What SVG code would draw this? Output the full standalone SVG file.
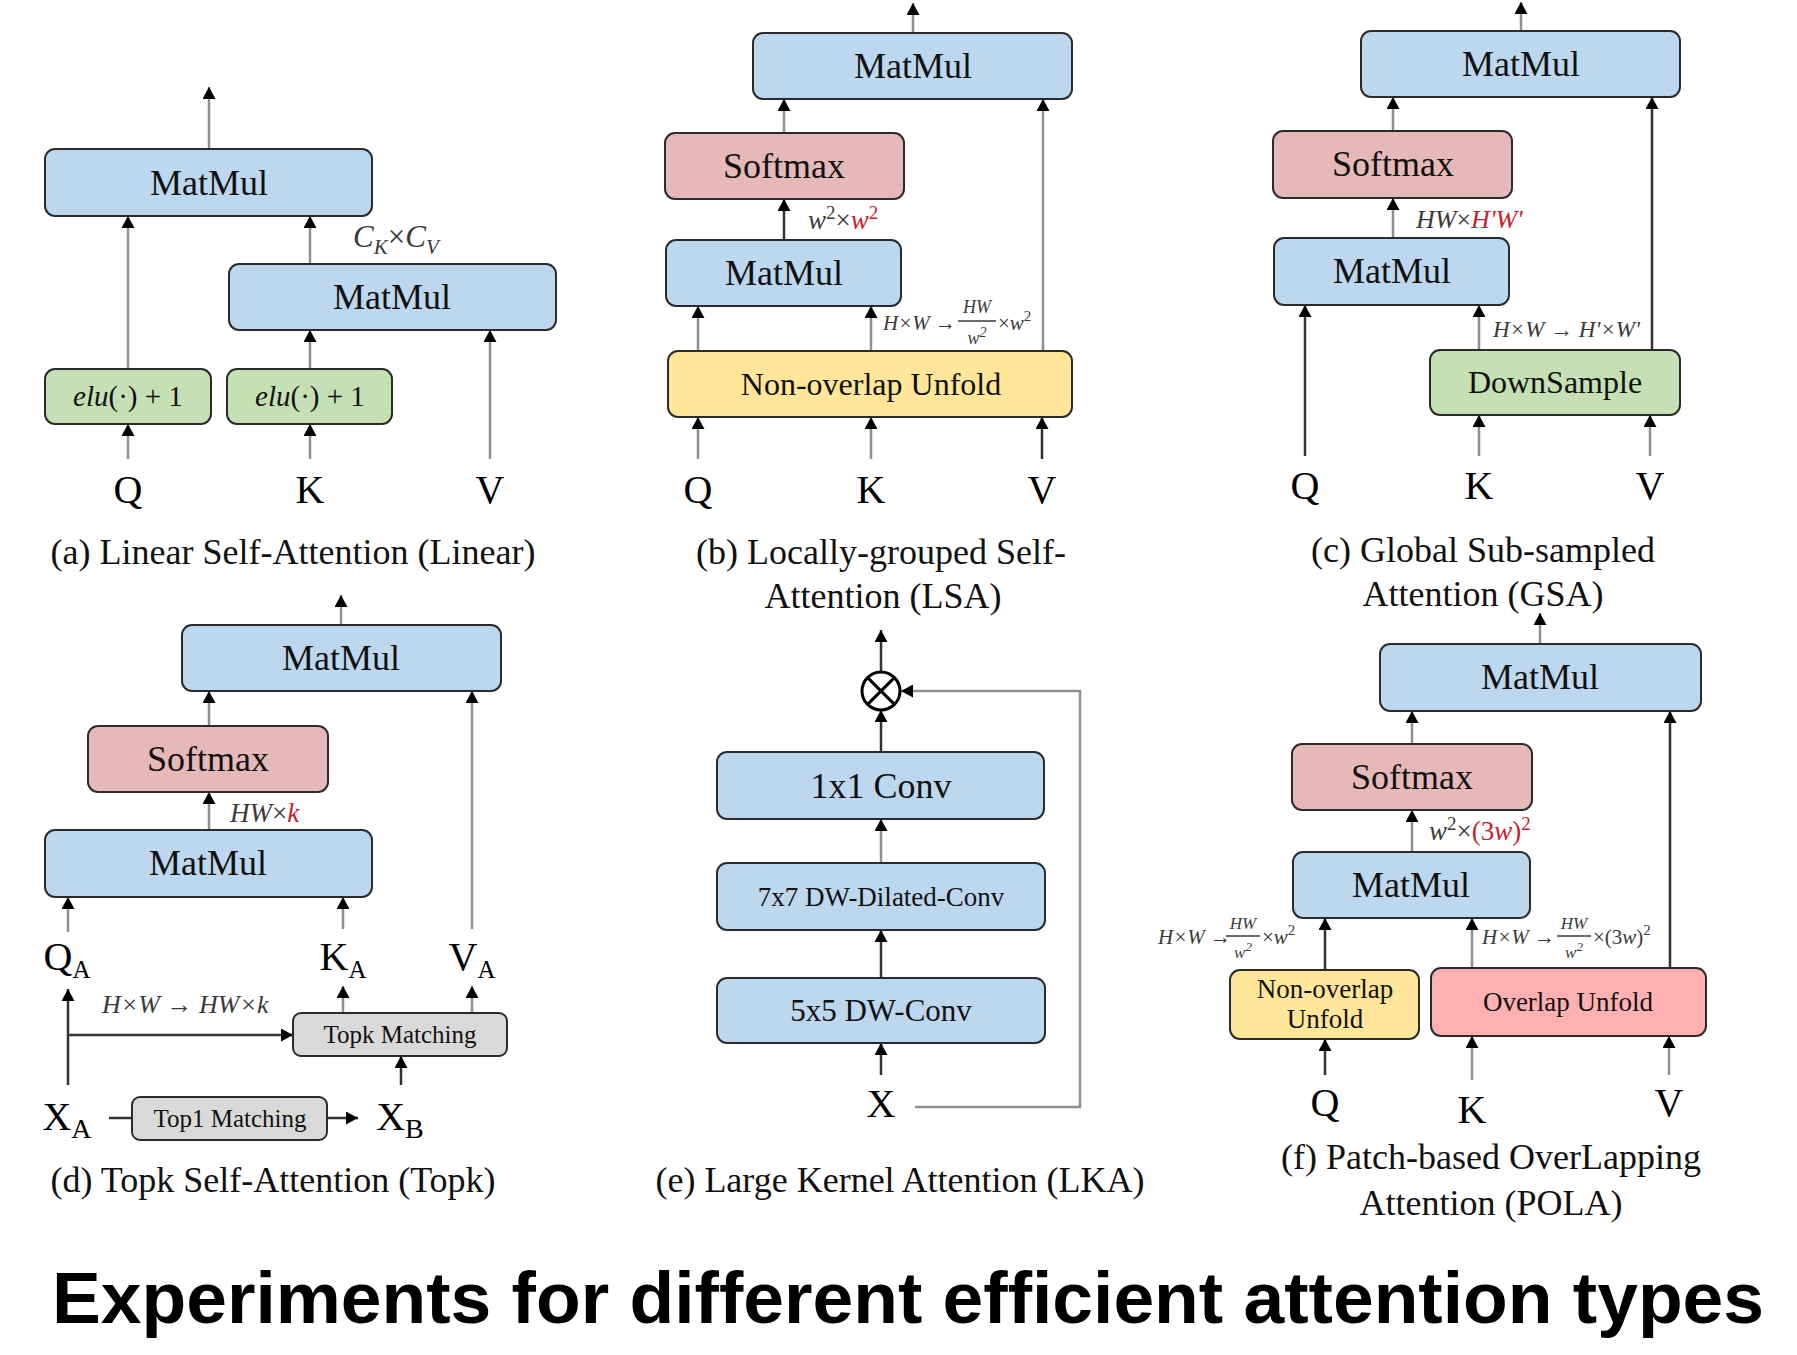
<svg xmlns="http://www.w3.org/2000/svg" width="1797" height="1355" viewBox="0 0 1797 1355">
<defs>
<marker id="ah" markerUnits="userSpaceOnUse" markerWidth="13" markerHeight="13" refX="12" refY="6.5" orient="auto">
<path d="M0,0 L12,6.5 L0,13 Z" fill="#000"/>
</marker>
<style>
.bx{stroke:#2b2b2b;stroke-width:2}
.blue{fill:#bdd7ee}
.pink{fill:#e6b9b8}
.green{fill:#c5e0b4}
.yellow{fill:#ffe699}
.gray{fill:#d9d9d9}
.red{fill:#ffb0b0}
.t{font-family:"Liberation Serif","Times New Roman",serif;fill:#111;text-anchor:middle}
.lab{font-family:"Liberation Serif","Times New Roman",serif;fill:#000;text-anchor:middle;font-size:40px}
.cap{font-family:"Liberation Serif","Times New Roman",serif;fill:#111;text-anchor:middle;font-size:36px}
.m{font-family:"Liberation Serif","Times New Roman",serif;font-style:italic;fill:#3a3a3a}
.rd{fill:#c8202c}
.ln{stroke:#909090;stroke-width:2.5;fill:none;marker-end:url(#ah)}
.dk{stroke:#333;stroke-width:2.5;fill:none;marker-end:url(#ah)}
.pl{stroke:#333;stroke-width:2.5;fill:none}
.title{font-family:"Liberation Sans",Arial,sans-serif;font-weight:bold;font-size:73px;fill:#000}
</style>
</defs>
<rect width="1797" height="1355" fill="#fff"/>

<g id="connectors">
<!-- (a) -->
<line class="ln" x1="209" y1="149" x2="209" y2="87"/>
<line class="ln" x1="128" y1="369" x2="128" y2="216"/>
<line class="ln" x1="310" y1="264" x2="310" y2="216"/>
<line class="ln" x1="310" y1="369" x2="310" y2="330"/>
<line class="ln" x1="490" y1="459" x2="490" y2="330"/>
<line class="ln" x1="128" y1="459" x2="128" y2="424"/>
<line class="ln" x1="310" y1="459" x2="310" y2="424"/>
<!-- (b) -->
<line class="ln" x1="913" y1="33" x2="913" y2="3"/>
<line class="ln" x1="784" y1="133" x2="784" y2="99"/>
<line class="dk" x1="784" y1="240" x2="784" y2="199"/>
<line class="ln" x1="698" y1="351" x2="698" y2="306"/>
<line class="ln" x1="871" y1="351" x2="871" y2="306"/>
<line class="ln" x1="1043" y1="351" x2="1043" y2="99"/>
<line class="ln" x1="698" y1="459" x2="698" y2="417"/>
<line class="ln" x1="871" y1="459" x2="871" y2="417"/>
<line class="dk" x1="1042" y1="459" x2="1042" y2="417"/>
<!-- (c) -->
<line class="ln" x1="1521" y1="31" x2="1521" y2="2"/>
<line class="ln" x1="1393" y1="131" x2="1393" y2="97"/>
<line class="ln" x1="1393" y1="238" x2="1393" y2="198"/>
<line class="dk" x1="1305" y1="456" x2="1305" y2="305"/>
<line class="ln" x1="1479" y1="350" x2="1479" y2="305"/>
<line class="dk" x1="1652" y1="350" x2="1652" y2="97"/>
<line class="ln" x1="1479" y1="456" x2="1479" y2="415"/>
<line class="ln" x1="1650" y1="456" x2="1650" y2="415"/>
<!-- (d) -->
<line class="ln" x1="341" y1="625" x2="341" y2="595"/>
<line class="ln" x1="209" y1="726" x2="209" y2="691"/>
<line class="ln" x1="209" y1="830" x2="209" y2="792"/>
<line class="ln" x1="68" y1="932" x2="68" y2="897"/>
<line class="ln" x1="343" y1="929" x2="343" y2="897"/>
<line class="ln" x1="472" y1="929" x2="472" y2="691"/>
<line class="ln" x1="343" y1="1013" x2="343" y2="986"/>
<line class="ln" x1="472" y1="1013" x2="472" y2="986"/>
<line class="dk" x1="68" y1="1085" x2="68" y2="989"/>
<line class="dk" x1="68" y1="1035" x2="293" y2="1035"/>
<line class="dk" x1="401" y1="1085" x2="401" y2="1056"/>
<line class="pl" x1="109" y1="1118" x2="132" y2="1118"/>
<line class="dk" x1="327" y1="1118" x2="358" y2="1118"/>
<!-- (e) -->
<line class="dk" x1="881" y1="672" x2="881" y2="630"/>
<line class="dk" x1="881" y1="752" x2="881" y2="710"/>
<line class="ln" x1="881" y1="863" x2="881" y2="819"/>
<line class="dk" x1="881" y1="978" x2="881" y2="930"/>
<line class="dk" x1="881" y1="1075" x2="881" y2="1043"/>
<polyline class="ln" points="915,1107 1080,1107 1080,691 901,691"/>
<!-- (f) -->
<line class="ln" x1="1540" y1="644" x2="1540" y2="613"/>
<line class="ln" x1="1412" y1="744" x2="1412" y2="711"/>
<line class="ln" x1="1412" y1="852" x2="1412" y2="810"/>
<line class="dk" x1="1325" y1="970" x2="1325" y2="918"/>
<line class="ln" x1="1472" y1="968" x2="1472" y2="918"/>
<line class="dk" x1="1670" y1="968" x2="1670" y2="711"/>
<line class="dk" x1="1325" y1="1075" x2="1325" y2="1039"/>
<line class="ln" x1="1472" y1="1080" x2="1472" y2="1036"/>
<line class="ln" x1="1669" y1="1075" x2="1669" y2="1036"/>
</g>

<!-- (a) Linear -->
<g id="a-matmul-top"><rect class="bx blue" x="45" y="149" width="327" height="67" rx="10"/><text class="t" x="209" y="195" font-size="36">MatMul</text></g>
<g id="a-matmul-kv"><rect class="bx blue" x="229" y="264" width="327" height="66" rx="10"/><text class="t" x="392" y="309" font-size="36">MatMul</text></g>
<g id="a-elu-q"><rect class="bx green" x="45" y="369" width="166" height="55" rx="10"/><text class="t" x="128" y="406" font-size="29"><tspan font-style="italic">elu</tspan>(·) + 1</text></g>
<g id="a-elu-k"><rect class="bx green" x="227" y="369" width="165" height="55" rx="10"/><text class="t" x="310" y="406" font-size="29"><tspan font-style="italic">elu</tspan>(·) + 1</text></g>
<g id="a-labels">
<text class="m" x="353" y="247" font-size="31">C<tspan dy="7" font-size="21">K</tspan><tspan dy="-7" font-style="normal">×</tspan>C<tspan dy="7" font-size="21">V</tspan></text>
<text class="lab" x="128" y="503">Q</text><text class="lab" x="310" y="503">K</text><text class="lab" x="490" y="503">V</text>
<text class="cap" x="293" y="564">(a) Linear Self-Attention (Linear)</text>
</g>

<!-- (b) LSA -->
<g id="b-matmul-top"><rect class="bx blue" x="753" y="33" width="319" height="66" rx="10"/><text class="t" x="913" y="78" font-size="36">MatMul</text></g>
<g id="b-softmax"><rect class="bx pink" x="665" y="133" width="239" height="66" rx="10"/><text class="t" x="784" y="178" font-size="36">Softmax</text></g>
<g id="b-matmul"><rect class="bx blue" x="666" y="240" width="235" height="66" rx="10"/><text class="t" x="784" y="285" font-size="36">MatMul</text></g>
<g id="b-unfold"><rect class="bx yellow" x="668" y="351" width="404" height="66" rx="10"/><text class="t" x="871" y="395" font-size="32">Non-overlap Unfold</text></g>
<g id="b-labels">
<text class="m" x="808" y="229" font-size="27">w<tspan dy="-10" font-size="19" font-style="normal">2</tspan><tspan dy="10" font-style="normal">×</tspan><tspan class="rd">w</tspan><tspan class="rd" dy="-10" font-size="19" font-style="normal">2</tspan></text>
<text class="m" x="883" y="330" font-size="21">H×W →</text>
<text class="m" x="977" y="313" font-size="18" text-anchor="middle">HW</text>
<line x1="958" y1="321" x2="996" y2="321" stroke="#3a3a3a" stroke-width="1.5"/>
<text class="m" x="977" y="344" font-size="18" text-anchor="middle" font-style="normal">w<tspan dy="-7" font-size="14">2</tspan></text>
<text class="m" x="998" y="330" font-size="21"><tspan font-style="normal">×</tspan>w<tspan dy="-9" font-size="15" font-style="normal">2</tspan></text>
<text class="lab" x="698" y="503">Q</text><text class="lab" x="871" y="503">K</text><text class="lab" x="1042" y="503">V</text>
<text class="cap" x="881" y="564">(b) Locally-grouped Self-</text>
<text class="cap" x="883" y="608">Attention (LSA)</text>
</g>

<!-- (c) GSA -->
<g id="c-matmul-top"><rect class="bx blue" x="1361" y="31" width="319" height="66" rx="10"/><text class="t" x="1521" y="76" font-size="36">MatMul</text></g>
<g id="c-softmax"><rect class="bx pink" x="1273" y="131" width="239" height="67" rx="10"/><text class="t" x="1393" y="176" font-size="36">Softmax</text></g>
<g id="c-matmul"><rect class="bx blue" x="1274" y="238" width="235" height="67" rx="10"/><text class="t" x="1392" y="283" font-size="36">MatMul</text></g>
<g id="c-downsample"><rect class="bx green" x="1430" y="350" width="250" height="65" rx="10"/><text class="t" x="1555" y="393" font-size="32">DownSample</text></g>
<g id="c-labels">
<text class="m" x="1416" y="228" font-size="26">HW<tspan font-style="normal">×</tspan><tspan class="rd">H'W'</tspan></text>
<text class="m" x="1493" y="337" font-size="23">H×W → H'×W'</text>
<text class="lab" x="1305" y="499">Q</text><text class="lab" x="1479" y="499">K</text><text class="lab" x="1650" y="499">V</text>
<text class="cap" x="1483" y="562">(c) Global Sub-sampled</text>
<text class="cap" x="1483" y="606">Attention (GSA)</text>
</g>

<!-- (d) Topk -->
<g id="d-matmul-top"><rect class="bx blue" x="182" y="625" width="319" height="66" rx="10"/><text class="t" x="341" y="670" font-size="36">MatMul</text></g>
<g id="d-softmax"><rect class="bx pink" x="88" y="726" width="240" height="66" rx="10"/><text class="t" x="208" y="771" font-size="36">Softmax</text></g>
<g id="d-matmul"><rect class="bx blue" x="45" y="830" width="327" height="67" rx="10"/><text class="t" x="208" y="875" font-size="36">MatMul</text></g>
<g id="d-topk"><rect class="bx gray" x="293" y="1013" width="214" height="43" rx="8"/><text class="t" x="400" y="1043" font-size="25">Topk Matching</text></g>
<g id="d-top1"><rect class="bx gray" x="132" y="1097" width="195" height="43" rx="8"/><text class="t" x="230" y="1127" font-size="25">Top1 Matching</text></g>
<g id="d-labels">
<text class="m" x="230" y="822" font-size="27">HW<tspan font-style="normal">×</tspan><tspan class="rd">k</tspan></text>
<text class="m" x="102" y="1013" font-size="26">H×W → HW×k</text>
<text class="lab" x="67" y="970" font-size="38">Q<tspan dy="8" font-size="25">A</tspan></text>
<text class="lab" x="343" y="970" font-size="38">K<tspan dy="8" font-size="25">A</tspan></text>
<text class="lab" x="472" y="970" font-size="38">V<tspan dy="8" font-size="25">A</tspan></text>
<text class="lab" x="67" y="1130" font-size="44">X<tspan dy="8" font-size="28">A</tspan></text>
<text class="lab" x="400" y="1130" font-size="44">X<tspan dy="8" font-size="28">B</tspan></text>
<text class="cap" x="273" y="1192">(d) Topk Self-Attention (Topk)</text>
</g>

<!-- (e) LKA -->
<g id="e-mul"><circle cx="881" cy="691" r="19" fill="#fff" stroke="#000" stroke-width="3"/><path d="M867.6,677.6 L894.4,704.4 M894.4,677.6 L867.6,704.4" stroke="#000" stroke-width="3"/></g>
<g id="e-conv1"><rect class="bx blue" x="717" y="752" width="327" height="67" rx="10"/><text class="t" x="881" y="798" font-size="36">1x1 Conv</text></g>
<g id="e-conv7"><rect class="bx blue" x="717" y="863" width="328" height="67" rx="10"/><text class="t" x="881" y="906" font-size="27">7x7 DW-Dilated-Conv</text></g>
<g id="e-conv5"><rect class="bx blue" x="717" y="978" width="328" height="65" rx="10"/><text class="t" x="881" y="1021" font-size="31">5x5 DW-Conv</text></g>
<g id="e-labels">
<text class="lab" x="881" y="1117">X</text>
<text class="cap" x="900" y="1192">(e) Large Kernel Attention (LKA)</text>
</g>

<!-- (f) POLA -->
<g id="f-matmul-top"><rect class="bx blue" x="1380" y="644" width="321" height="67" rx="10"/><text class="t" x="1540" y="689" font-size="36">MatMul</text></g>
<g id="f-softmax"><rect class="bx pink" x="1292" y="744" width="240" height="66" rx="10"/><text class="t" x="1412" y="789" font-size="36">Softmax</text></g>
<g id="f-matmul"><rect class="bx blue" x="1293" y="852" width="237" height="66" rx="10"/><text class="t" x="1411" y="897" font-size="36">MatMul</text></g>
<g id="f-nonoverlap"><rect class="bx yellow" x="1230" y="970" width="189" height="69" rx="10"/><text class="t" x="1325" y="998" font-size="27">Non-overlap</text><text class="t" x="1325" y="1028" font-size="27">Unfold</text></g>
<g id="f-overlap"><rect class="bx red" x="1431" y="968" width="275" height="68" rx="10"/><text class="t" x="1568" y="1011" font-size="27">Overlap Unfold</text></g>
<g id="f-labels">
<text class="m" x="1429" y="840" font-size="27">w<tspan dy="-10" font-size="19" font-style="normal">2</tspan><tspan dy="10" font-style="normal">×</tspan><tspan class="rd" font-style="normal">(3</tspan><tspan class="rd">w</tspan><tspan class="rd" font-style="normal">)</tspan><tspan class="rd" dy="-10" font-size="19" font-style="normal">2</tspan></text>
<text class="m" x="1158" y="944" font-size="21">H×W →</text>
<text class="m" x="1243" y="929" font-size="17" text-anchor="middle">HW</text>
<line x1="1226" y1="936" x2="1260" y2="936" stroke="#3a3a3a" stroke-width="1.5"/>
<text class="m" x="1243" y="958" font-size="17" text-anchor="middle" font-style="normal">w<tspan dy="-7" font-size="13">2</tspan></text>
<text class="m" x="1262" y="944" font-size="21"><tspan font-style="normal">×</tspan>w<tspan dy="-9" font-size="15" font-style="normal">2</tspan></text>
<text class="m" x="1482" y="944" font-size="21">H×W →</text>
<text class="m" x="1574" y="929" font-size="17" text-anchor="middle">HW</text>
<line x1="1557" y1="936" x2="1591" y2="936" stroke="#3a3a3a" stroke-width="1.5"/>
<text class="m" x="1574" y="958" font-size="17" text-anchor="middle" font-style="normal">w<tspan dy="-7" font-size="13">2</tspan></text>
<text class="m" x="1593" y="944" font-size="21"><tspan font-style="normal">×(3</tspan>w<tspan font-style="normal">)</tspan><tspan dy="-9" font-size="15" font-style="normal">2</tspan></text>
<text class="lab" x="1325" y="1116">Q</text><text class="lab" x="1472" y="1123">K</text><text class="lab" x="1669" y="1116">V</text>
<text class="cap" x="1491" y="1169">(f) Patch-based OverLapping</text>
<text class="cap" x="1491" y="1215">Attention (POLA)</text>
</g>

<g id="title"><text class="title" x="52" y="1323" textLength="1712" lengthAdjust="spacingAndGlyphs">Experiments for different efficient attention types</text></g>
</svg>
